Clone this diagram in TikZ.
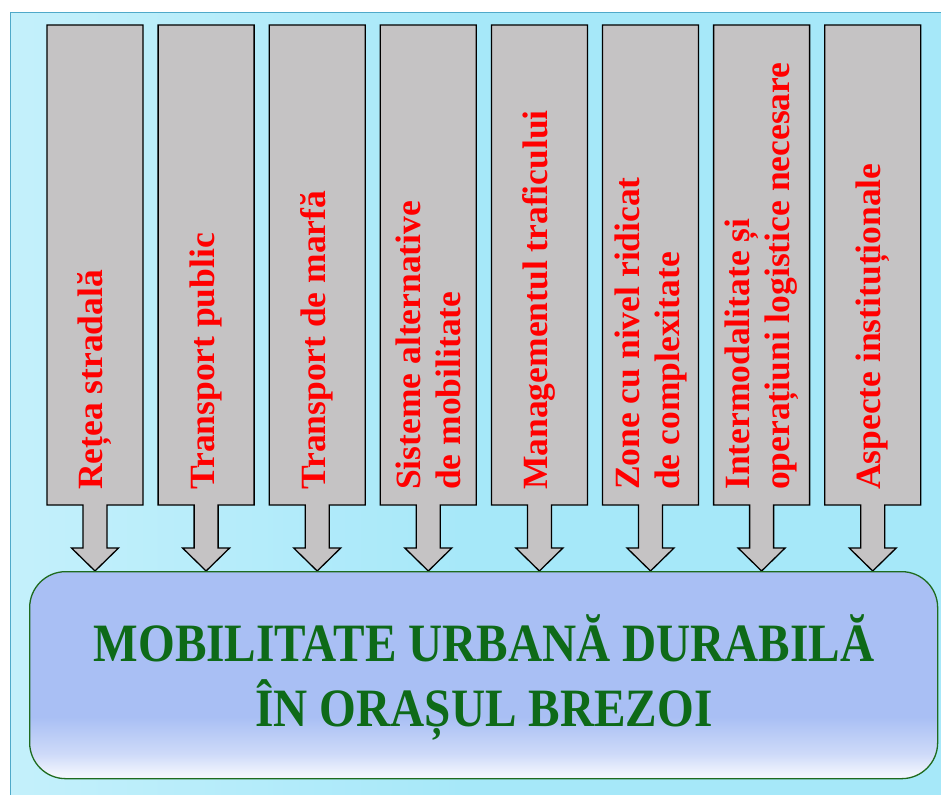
\documentclass[tikz,border=0pt]{standalone}
\usepackage{fontspec}
\setmainfont{Liberation Serif}
\usetikzlibrary{calc}
\definecolor{bgcyan}{HTML}{A6E8F9}
\definecolor{bgcyanl}{HTML}{C4F0FB}
\definecolor{bgborder}{HTML}{4FA9C9}
\definecolor{colgray}{HTML}{C5C3C4}
\definecolor{boxblue}{HTML}{A9BFF4}
\definecolor{boxwhite}{HTML}{F2F5FD}
\definecolor{boxgreen}{HTML}{1E6B1E}
\definecolor{titlegreen}{HTML}{0E6A18}
\definecolor{txtred}{HTML}{FF0000}
\pgfdeclareverticalshading{boxshade}{100bp}{
  color(0bp)=(boxwhite); color(26bp)=(boxwhite); color(31bp)=(boxwhite!50!boxblue); color(40bp)=(boxblue); color(100bp)=(boxblue)}
\tikzset{
  colarrow/.style={draw=black, line width=1.3pt, fill=colgray, line join=miter},
  coltext/.style={text=txtred, font=\bfseries\fontsize{35.5}{40}\selectfont, rotate=90, anchor=west, align=left, inner sep=0pt},
  titletext/.style={text=titlegreen, font=\bfseries\fontsize{54}{65}\selectfont, align=center, inner sep=0pt}
}
\begin{document}
\begin{tikzpicture}[x=1pt,y=-1pt]
\useasboundingbox (0,0) rectangle (941,794);
% background panel
\shade[left color=bgcyanl, right color=bgcyan, middle color=bgcyan, draw=bgborder, line width=1pt] (10,13) rectangle (945,800);
% columns with arrows
\foreach \i in {0,...,7}{
  \pgfmathsetmacro{\xl}{47+111.1*\i}
  \pgfmathsetmacro{\xc}{\xl+48}
  \draw[colarrow] (\xl,25) -- (\xl+96,25) -- (\xl+96,505) -- (\xc+12,505) -- (\xc+12,548)
     -- (\xc+23.5,548) -- (\xc,571) -- (\xc-23.5,548) -- (\xc-12,548) -- (\xc-12,505)
     -- (\xl,505) -- cycle;
  \coordinate (tip\i) at (\xc,571);
}
% bottom box
\node[draw=boxgreen, line width=1.3pt, rounded corners=36pt, minimum width=908pt, minimum height=207pt,
      shading=boxshade, anchor=north west, inner sep=0pt] (goal) at (29,571) {};
% column texts
\node[coltext] (t0) at (95,490) {Rețea stradală};
\node[coltext] (t1) at (206.1,490) {Transport public};
\node[coltext] (t2) at (317.2,490) {Transport de marfă};
\node[coltext] (t3) at (428.3,490) {Sisteme alternative\\de mobilitate};
\node[coltext] (t4) at (539.4,490) {Managementul traficului};
\node[coltext] (t5) at (650.5,490) {Zone cu nivel ridicat\\de complexitate};
\node[coltext] (t6) at (761.6,490) {Intermodalitate și\\operațiuni logistice necesare};
\node[coltext] (t7) at (872.7,490) {Aspecte instituționale};
% title
\node[titletext] (title) at (484,677) {\scalebox{0.875}[1]{MOBILITATE URBANĂ DURABILĂ}\\\scalebox{0.875}[1]{ÎN ORAȘUL BREZOI}};
\end{tikzpicture}
\end{document}
